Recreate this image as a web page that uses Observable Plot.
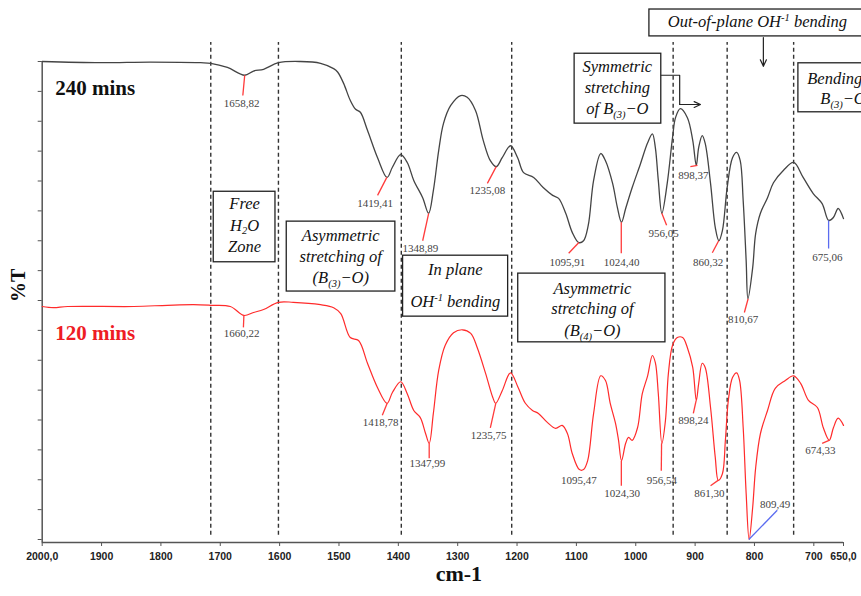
<!DOCTYPE html>
<html><head><meta charset="utf-8">
<script src="https://cdn.jsdelivr.net/npm/d3@7"></script>
<script src="https://cdn.jsdelivr.net/npm/@observablehq/plot@0.6"></script>
<style>
html,body{margin:0;padding:0;background:#fff;overflow:hidden;}
#chart svg{display:block;}
</style>
</head><body><div id="chart"></div>
<script>
// ---- spectrum 240 mins (black) ----
const wn240 = [2000,1902,1818,1733,1716,1688,1659,1644,1627,1602,1565,1531,1509,1502,1492,1481,1472,1464,1452,1435,1419,1410,1396,1385,1374,1359,1349,1341,1332,1324,1312,1295,1284,1270,1257,1245,1235,1225,1211,1199,1189,1172,1156,1140,1130,1118,1107,1096,1088,1080,1071,1059,1051,1039,1031,1024,1017,1006,992,980,972,967,962,956,947,938,933,925,913,904,898,894,888,883,874,866,860,854,846,837,830,824,819,814,811,803,798,790,778,768,751,734,718,701,686,675,667,659,650];
const t240 = [80.0,79.8,79.9,79.8,79.7,79.0,77.7,78.4,78.7,79.8,80.0,79.7,78.8,78.2,76.3,73.5,72.0,71.5,68.5,63.9,60.6,62.3,64.4,63.1,60.1,57.2,54.6,58.4,65.1,69.6,72.6,74.3,74.0,71.8,66.8,63.4,62.4,63.9,65.9,63.9,61.4,60.6,58.9,57.6,57.1,54.6,51.4,49.7,50.0,52.6,60.1,64.6,63.4,59.6,55.6,53.1,55.4,58.9,62.9,66.4,67.9,65.6,60.1,54.6,59.6,67.3,70.6,72.1,70.6,66.8,62.6,65.6,67.6,66.3,59.6,52.2,50.0,51.7,58.9,63.9,64.8,63.4,56.7,46.7,40.3,45.5,51.2,54.6,57.2,59.7,61.8,63.1,60.6,57.9,56.2,53.4,53.9,55.4,53.7];

// ---- spectrum 120 mins (red) ----
const wn120 = [2000,1981,1957,1846,1789,1745,1716,1683,1660,1644,1627,1602,1577,1531,1509,1497,1481,1467,1452,1435,1419,1410,1396,1385,1374,1363,1354,1348,1341,1332,1321,1307,1292,1278,1267,1253,1241,1236,1225,1211,1198,1186,1174,1164,1149,1135,1124,1115,1107,1095,1088,1081,1071,1059,1051,1043,1034,1029,1024,1017,1012,1006,997,989,980,972,967,962,956,950,945,938,930,921,913,904,898,894,888,883,874,866,861,854,849,844,837,830,825,819,814,809,803,798,790,778,765,748,734,722,709,694,684,674,667,659,650];
const t120 = [39.0,38.8,39.0,39.0,39.2,39.3,39.2,39.0,37.5,38.0,38.5,39.7,39.7,39.3,38.8,37.8,33.8,33.3,29.5,25.4,22.8,24.6,26.4,24.4,21.6,20.4,17.7,16.1,21.1,28.3,32.5,34.6,35.1,34.5,32.1,27.8,23.8,22.8,24.9,27.9,25.4,22.8,21.6,21.1,19.6,18.6,19.1,17.7,14.4,11.7,11.7,13.2,21.1,27.4,26.6,22.8,19.4,16.6,13.2,16.1,17.1,16.6,18.7,24.4,27.4,30.8,29.6,24.4,16.1,19.9,27.8,32.5,33.8,33.8,32.1,28.8,23.3,26.1,29.5,28.8,22.1,13.7,9.9,11.0,16.6,23.3,27.1,27.9,26.6,18.7,7.7,0.0,5.4,12.0,17.7,21.6,25.3,26.6,27.4,26.1,23.3,22.1,18.7,16.6,18.7,20.3,19.1];

// ---- axes ----
const xTicks = [2000,1900,1800,1700,1600,1500,1400,1300,1200,1100,1000,900,800,700,650];
const xTickText = ["2000,0","1900","1800","1700","1600","1500","1400","1300","1200","1100","1000","900","800","700","650,0"];
const yTicks = [0,5,10,15,20,25,30,35,40,45,50,55,60,65,70,75,80];

// ---- dashed band separators ----
const bandLines = [1716,1602,1395,1209,937,846,734];

// ---- peak labels 240 mins ----
const labels240 = ["1658,82","1419,41","1348,89","1235,08","1095,91","1024,40","956,05","898,37","860,32","810,67","675,06"];
const labX240 = [1664,1439,1363,1250,1115,1024,953,903,878,819,677];
const labY240 = [73.0,56.2,48.7,58.4,46.4,46.4,51.2,60.9,46.4,36.8,47.2];
const lx1_240 = [1658.8,1419.4,1348.9,1235.1,1095.9,1024.4,956.1,908,860.3,810.7,675.1];
const ly1_240 = [77.7,60.6,54.6,62.4,49.7,53.1,54.6,62.4,50.0,40.3,53.4];
const lx2_240 = [1662,1435,1359,1250,1113,1024.4,948,896,871,817,675.1];
const ly2_240 = [74.3,57.6,50.0,59.6,47.9,47.9,52.6,62.6,48.0,38.0,48.7];
const lc_240 = ["r","r","r","r","r","r","r","r","r","r","b"];

// ---- peak labels 120 mins ----
const labels120 = ["1660,22","1418,78","1347,99","1235,75","1095,47","1024,30","956,54","898,24","861,30","809,49","674,33"];
const labX120 = [1664,1430,1351,1248,1096,1023,956,903,876,765,689];
const labY120 = [34.5,19.6,12.7,17.4,9.9,7.7,9.9,19.9,7.7,5.9,14.9];
const lx1_120 = [1660.2,1418.8,1348,1235.8,1095.5,1024.3,956.5,898.2,861.3,809.5,674.3];
const ly1_120 = [37.5,22.8,16.1,22.8,11.7,13.2,16.1,23.3,9.9,0,16.6];
const lx2_120 = [1661,1427,1348,1245,1095.5,1024.3,957,903,874,761.6,686];
const ly2_120 = [35.5,20.8,13.6,18.7,11.7,9.0,11.5,21.1,9.0,4.9,16.1];
const lc_120 = ["r","r","r","r","r","r","r","r","r","b","r"];

// ---- annotation boxes ----
const boxX1 = [1711,1588,1392,1198,1103,977,726];
const boxX2 = [1607,1405,1215,950,957,600,600];
const boxY1 = [58.2,53.2,47.5,44.5,81.3,88.7,79.7];
const boxY2 = [46.4,41.5,37.3,33.0,69.6,84.2,71.5];
const boxText = ["Free","H_2_O","Zone","Asymmetric","stretching of","(B_(3)_−O)","In plane","OH^-1^ bending","Asymmetric","stretching of","(B_(4)_−O)","Symmetric","stretching","of B_(3)_−O","Out-of-plane OH^-1^ bending"];
const boxTextX = [1659,1659,1659,1497,1497,1497,1304,1304,1073,1073,1073,1031,1031,1031,795];
const boxTextY = [56.2,52.6,49.0,50.9,47.4,43.8,45.2,39.8,42.0,38.7,35.0,79.2,75.6,72.1,86.7];
// left-aligned text in the clipped box at the right edge
const edgeText = ["Bending of","B_(3)_−O"];
const edgeTextX = [711,689];
const edgeTextY = [77.2,73.8];

// ---- connector arrows ----
const connX = [957,926,926];
const connY = [77.7,77.7,72.8];
const arrowX1 = [926,785];
const arrowY1 = [72.8,84.0];
const arrowX2 = [891,785];
const arrowY2 = [72.8,79.2];

// ---- series labels ----
const seriesNames = ["240 mins","120 mins"];
const seriesX = [1978,1978];
const seriesY = [75.6,34.5];
const seriesColor = ["#111","#ee1c25"];

const s240 = wn240.map((w,i)=>({w, t:t240[i]}));
const s120 = wn120.map((w,i)=>({w, t:t120[i]}));
const idx = n => d3.range(n);
const leadColor = c => c === "b" ? "#5b6cf0" : "#ff3b3b";
const serif = "Liberation Serif, Times New Roman, serif";

const plot = Plot.plot({
  width: 861,
  height: 596,
  marginLeft: 41.7,
  marginRight: 18,
  marginTop: 61,
  marginBottom: 54,
  style: {fontFamily: "Liberation Sans, Arial, sans-serif", background: "#fff", overflow: "hidden"},
  x: {domain: [2000, 650]},
  y: {domain: [-0.5, 80]},
  marks: [
    Plot.ruleX(bandLines, {y1: 0.7, y2: 83.2, stroke: "#333", strokeWidth: 1.4, strokeDasharray: "4,3"}),
    Plot.axisX({ticks: xTicks, tickFormat: d => xTickText[xTicks.indexOf(d)], tickSize: 4, tickPadding: 6, fontWeight: "bold", fontSize: 10.5, stroke: "#555", fill: "#222", label: null}),
    Plot.axisY({ticks: yTicks, tickFormat: () => "", tickSize: 4, stroke: "#555", label: null}),
    Plot.ruleX([2000], {y1: -0.5, y2: 80, stroke: "#555", strokeWidth: 1.5}),
    Plot.ruleY([-0.5], {x1: 2000, x2: 650, stroke: "#555", strokeWidth: 1.5}),
    Plot.line(s240, {x: "w", y: "t", stroke: "#444", strokeWidth: 1.3, curve: "catmull-rom"}),
    Plot.line(s120, {x: "w", y: "t", stroke: "#ff2b2b", strokeWidth: 1.2, curve: "catmull-rom"}),
    Plot.link(idx(labels240.length), {x1: i => lx1_240[i], y1: i => ly1_240[i], x2: i => lx2_240[i], y2: i => ly2_240[i], stroke: i => leadColor(lc_240[i]), strokeWidth: 1.3}),
    Plot.link(idx(labels120.length), {x1: i => lx1_120[i], y1: i => ly1_120[i], x2: i => lx2_120[i], y2: i => ly2_120[i], stroke: i => leadColor(lc_120[i]), strokeWidth: 1.3}),
    Plot.text(idx(labels240.length), {x: i => labX240[i], y: i => labY240[i], text: i => labels240[i], fontFamily: serif, fontSize: 11, fill: "#444"}),
    Plot.text(idx(labels120.length), {x: i => labX120[i], y: i => labY120[i], text: i => labels120[i], fontFamily: serif, fontSize: 11, fill: "#444"}),
    Plot.rect(idx(boxX1.length), {x1: i => boxX1[i], x2: i => boxX2[i], y1: i => boxY1[i], y2: i => boxY2[i], fill: "#fff", stroke: "#222", strokeWidth: 1.3}),
    Plot.text(idx(boxText.length), {x: i => boxTextX[i], y: i => boxTextY[i], text: i => boxText[i], textAnchor: "middle", fontFamily: serif, fontStyle: "italic", fontSize: 16.5, fill: "#111"}),
    Plot.text(idx(edgeText.length), {x: i => edgeTextX[i], y: i => edgeTextY[i], text: i => edgeText[i], textAnchor: "start", fontFamily: serif, fontStyle: "italic", fontSize: 16.5, fill: "#111"}),
    Plot.line(idx(connX.length), {x: i => connX[i], y: i => connY[i], stroke: "#222", strokeWidth: 1.2}),
    Plot.arrow(idx(arrowX1.length), {x1: i => arrowX1[i], y1: i => arrowY1[i], x2: i => arrowX2[i], y2: i => arrowY2[i], stroke: "#222", strokeWidth: 1.2, headLength: 9, headAngle: 50}),
    Plot.text(idx(seriesNames.length), {x: i => seriesX[i], y: i => seriesY[i], text: i => seriesNames[i], fill: i => seriesColor[i], textAnchor: "start", fontFamily: serif, fontWeight: "bold", fontSize: 21}),
    Plot.text(["cm-1"], {frameAnchor: "bottom", dx: 16, dy: 38, fontFamily: serif, fontWeight: "bold", fontSize: 22, fill: "#111"}),
    Plot.text(["%T"], {frameAnchor: "left", dx: -24, rotate: -90, fontFamily: serif, fontWeight: "bold", fontSize: 20, fill: "#111"})
  ]
});

// rich text: _sub_ and ^sup^
const NS = "http://www.w3.org/2000/svg";
plot.querySelectorAll("text").forEach(t => {
  if (t.querySelector("tspan")) return;
  const s = t.textContent;
  if (!/[_^]/.test(s)) return;
  const parts = s.split(/(_[^_]*_|\^[^^]*\^)/).filter(p => p.length);
  t.textContent = "";
  let shift = 0;
  parts.forEach(p => {
    const ts = document.createElementNS(NS, "tspan");
    let target = 0;
    if (p.length > 1 && p[0] === "_" && p[p.length-1] === "_") { ts.textContent = p.slice(1,-1); ts.setAttribute("font-size","10.5"); target = 4; }
    else if (p.length > 1 && p[0] === "^" && p[p.length-1] === "^") { ts.textContent = p.slice(1,-1); ts.setAttribute("font-size","10.5"); target = -6; }
    else ts.textContent = p;
    if (target - shift !== 0) ts.setAttribute("dy", target - shift);
    shift = target;
    t.appendChild(ts);
  });
});
document.getElementById("chart").appendChild(plot);
</script>
</body></html>
